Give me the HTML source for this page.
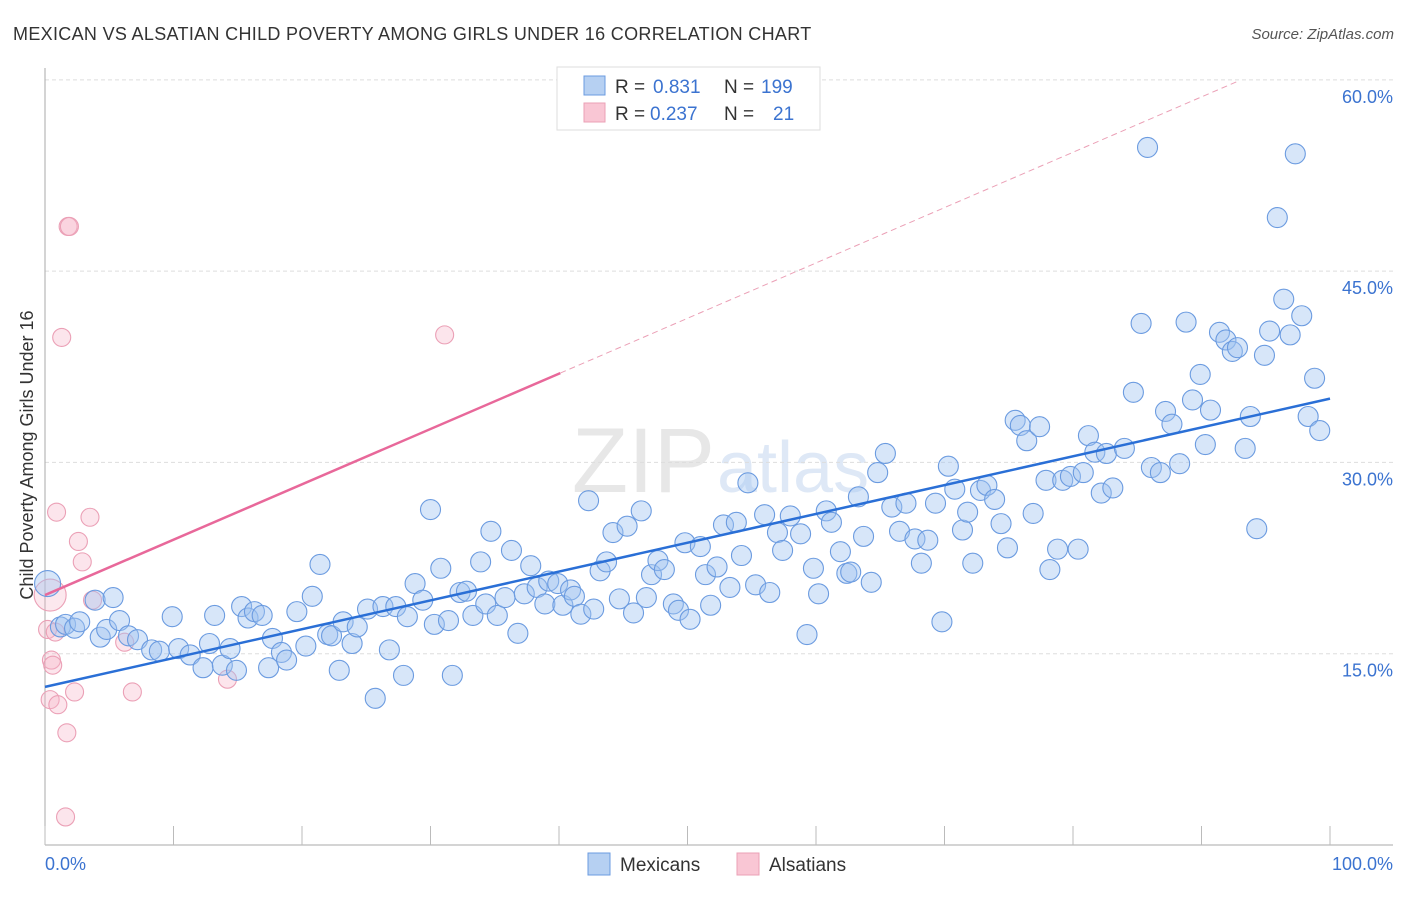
<!DOCTYPE html>
<html><head><meta charset="utf-8"><style>
body{margin:0;background:#fff;font-family:"Liberation Sans",sans-serif;}
svg text{font-family:"Liberation Sans",sans-serif;}
</style></head><body>
<svg id="chart" width="1406" height="892" xmlns="http://www.w3.org/2000/svg">
<text x="13" y="40" font-size="18" fill="#333" letter-spacing="0.32">MEXICAN VS ALSATIAN CHILD POVERTY AMONG GIRLS UNDER 16 CORRELATION CHART</text>
<text x="1394" y="39" font-size="15" font-style="italic" fill="#555" text-anchor="end">Source: ZipAtlas.com</text>
<text x="715" y="492" font-size="92" font-family="Liberation Serif" fill="#ddd" text-anchor="end" opacity="0.7">ZIP</text>
<text x="717" y="492" font-size="72" fill="#c9daf1" opacity="0.6">atlas</text>
<g id="grid"></g>
<g id="axes"></g>
<g id="marks"></g>
<text transform="translate(33,455) rotate(-90)" font-size="18" fill="#333" text-anchor="middle">Child Poverty Among Girls Under 16</text>
<g>
<rect x="557" y="67" width="263" height="63" fill="#fff" stroke="#ddd"/>
<rect x="584" y="76" width="21" height="19" fill="#b6d0f2" stroke="#6b9be0"/>
<text x="615" y="93" font-size="19" fill="#333">R = </text><text x="653" y="93" font-size="19" fill="#3b73d0">0.831</text>
<text x="724" y="93" font-size="19" fill="#333">N = </text><text x="761" y="93" font-size="19" fill="#3b73d0">199</text>
<rect x="584" y="103" width="21" height="19" fill="#f9c6d4" stroke="#eba0b6"/>
<text x="615" y="120" font-size="19" fill="#333">R = </text><text x="650" y="120" font-size="19" fill="#3b73d0">0.237</text>
<text x="724" y="120" font-size="19" fill="#333">N = </text><text x="773" y="120" font-size="19" fill="#3b73d0">21</text>
</g>
<g>
<rect x="588" y="853" width="22" height="22" fill="#b6d0f2" stroke="#6b9be0"/>
<text x="620" y="871" font-size="19" fill="#333">Mexicans</text>
<rect x="737" y="853" width="22" height="22" fill="#f9c6d4" stroke="#eba0b6"/>
<text x="769" y="871" font-size="19" fill="#333">Alsatians</text>
</g>
<text x="45" y="870" font-size="18" fill="#3b73d0">0.0%</text>
<text x="1393" y="870" font-size="18" fill="#3b73d0" text-anchor="end">100.0%</text>
</svg>
<script>
const blueX=[0.2,1.2,1.6,2.3,2.7,3.9,5.3,4.3,4.8,5.8,6.5,7.2,8.3,8.9,9.9,10.4,11.3,12.3,12.8,13.2,13.8,14.4,14.9,15.3,15.8,16.3,16.9,17.4,17.7,18.4,18.8,19.6,20.3,20.8,21.4,22.0,22.3,22.9,23.2,23.9,24.3,25.1,25.7,26.3,26.8,27.3,27.9,28.2,28.8,29.4,30.0,30.3,30.8,31.4,31.7,32.3,32.8,33.3,33.9,34.3,34.7,35.2,35.8,36.3,36.8,37.3,37.8,38.3,38.9,39.2,39.9,40.3,40.9,41.2,41.7,42.3,42.7,43.2,43.7,44.2,44.7,45.3,45.8,46.4,46.8,47.2,47.7,48.2,48.9,49.3,49.8,50.2,51.0,51.4,51.8,52.3,52.8,53.3,53.8,54.2,54.7,55.3,56.0,56.4,57.0,57.4,58.0,58.8,59.3,59.8,60.2,60.8,61.2,61.9,62.4,62.7,63.3,63.7,64.3,64.8,65.4,65.9,66.5,67.0,67.7,68.2,68.7,69.3,69.8,70.3,70.8,71.4,71.8,72.2,72.8,73.3,73.9,74.4,74.9,75.5,75.9,76.4,76.9,77.4,77.9,78.2,78.8,79.2,79.8,80.4,80.8,81.2,81.7,82.2,82.6,83.1,84.0,84.7,85.3,85.8,86.1,86.8,87.2,87.7,88.3,88.8,89.3,89.9,90.3,90.7,91.4,91.9,92.4,92.8,93.4,93.8,94.3,94.9,95.3,95.9,96.4,96.9,97.3,97.8,98.3,98.8,99.2];
const blueY=[20.5,17.1,17.3,17.0,17.5,19.2,19.4,16.3,16.9,17.6,16.4,16.1,15.3,15.2,17.9,15.4,14.9,13.9,15.8,18.0,14.1,15.4,13.7,18.7,17.8,18.3,18.0,13.9,16.2,15.1,14.5,18.3,15.6,19.5,22.0,16.5,16.4,13.7,17.5,15.8,17.1,18.5,11.5,18.7,15.3,18.7,13.3,17.9,20.5,19.2,26.3,17.3,21.7,17.6,13.3,19.8,19.9,18.0,22.2,18.9,24.6,18.0,19.4,23.1,16.6,19.7,21.9,20.2,18.9,20.7,20.5,18.8,20.0,19.5,18.1,27.0,18.5,21.5,22.2,24.5,19.3,25.0,18.2,26.2,19.4,21.2,22.3,21.6,18.9,18.4,23.7,17.7,23.4,21.2,18.8,21.8,25.1,20.2,25.3,22.7,28.4,20.4,25.9,19.8,24.5,23.1,25.8,24.4,16.5,21.7,19.7,26.2,25.3,23.0,21.3,21.4,27.3,24.2,20.6,29.2,30.7,26.5,24.6,26.8,24.0,22.1,23.9,26.8,17.5,29.7,27.9,24.7,26.1,22.1,27.8,28.2,27.1,25.2,23.3,33.3,32.9,31.7,26.0,32.8,28.6,21.6,23.2,28.6,28.9,23.2,29.2,32.1,30.8,27.6,30.7,28.0,31.1,35.5,40.9,54.7,29.6,29.2,34.0,33.0,29.9,41.0,34.9,36.9,31.4,34.1,40.2,39.6,38.7,39.0,31.1,33.6,24.8,38.4,40.3,49.2,42.8,40.0,54.2,41.5,33.6,36.6,32.5];
const pinkX=[0.4,0.2,0.8,0.9,0.5,0.6,0.4,1.0,1.7,1.6,1.8,1.9,1.3,2.6,2.9,3.5,3.7,2.3,6.2,6.8,14.2,31.1];
const pinkY=[19.6,16.9,16.7,26.1,14.5,14.1,11.4,11.0,8.8,2.2,48.5,48.5,39.8,23.8,22.2,25.7,19.2,12.0,15.9,12.0,13.0,40.0];
const yTicks=[15,30,45,60];
const yTickLabels=["15.0%","30.0%","45.0%","60.0%"];
const xTicks=[0,10,20,30,40,50,60,70,80,90,100];
const blueFit=[12.4,35.0];
const pinkFit=[19.6,0.434];

const NS="http://www.w3.org/2000/svg";
const X=v=>45+v*12.85, Y=v=>845-v*12.753;
function el(t,a,p){const e=document.createElementNS(NS,t);for(const k in a)e.setAttribute(k,a[k]);p.appendChild(e);return e;}
const grid=document.getElementById('grid'),axes=document.getElementById('axes'),marks=document.getElementById('marks');
yTicks.forEach((t,i)=>{
  const l=el('line',{x1:45,x2:1393,y1:Y(t),y2:Y(t),stroke:'#ddd','stroke-dasharray':'4,3'},grid);
  
  
  const tx=el('text',{x:1393,y:Y(t)+23,'font-size':18,fill:'#3b73d0','text-anchor':'end'},axes);
  tx.textContent=yTickLabels[i];
  
  
});
const ax=el('line',{x1:45,x2:45,y1:68,y2:845,stroke:'#aaa'},axes);


const bx=el('line',{x1:45,x2:1393,y1:845,y2:845,stroke:'#aaa'},axes);


xTicks.forEach(t=>{
  const l=el('line',{x1:X(t),x2:X(t),y1:826,y2:845,stroke:'#bbb'},axes);
  
  
});
pinkX.forEach((x,i)=>{
  const c=el('circle',{cx:X(x),cy:Y(pinkY[i]),r:i===0?16:9,fill:i===0?'rgba(246,180,200,0.3)':'rgba(246,180,200,0.35)',stroke:'#eba0b6','stroke-width':1.1},marks);
  
  
});
blueX.forEach((x,i)=>{
  const c=el('circle',{cx:X(x),cy:Y(blueY[i]),r:i===0?13:10,fill:'rgba(160,196,240,0.42)',stroke:'#6b9be0','stroke-width':1.1},marks);
  
  
});
const bl=el('line',{x1:X(0),y1:Y(blueFit[0]),x2:X(100),y2:Y(blueFit[1]),stroke:'#2a6fd6','stroke-width':2.5},marks);


const pl=el('line',{x1:X(0),y1:Y(pinkFit[0]),x2:X(40.1),y2:Y(pinkFit[0]+pinkFit[1]*40.1),stroke:'#e8689a','stroke-width':2.5},marks);


const pd=el('line',{x1:X(40.1),y1:Y(pinkFit[0]+pinkFit[1]*40.1),x2:X(92.8),y2:Y(pinkFit[0]+pinkFit[1]*92.8),stroke:'#eba0b6','stroke-width':1,'stroke-dasharray':'6,4'},marks);


</script>
</body></html>
